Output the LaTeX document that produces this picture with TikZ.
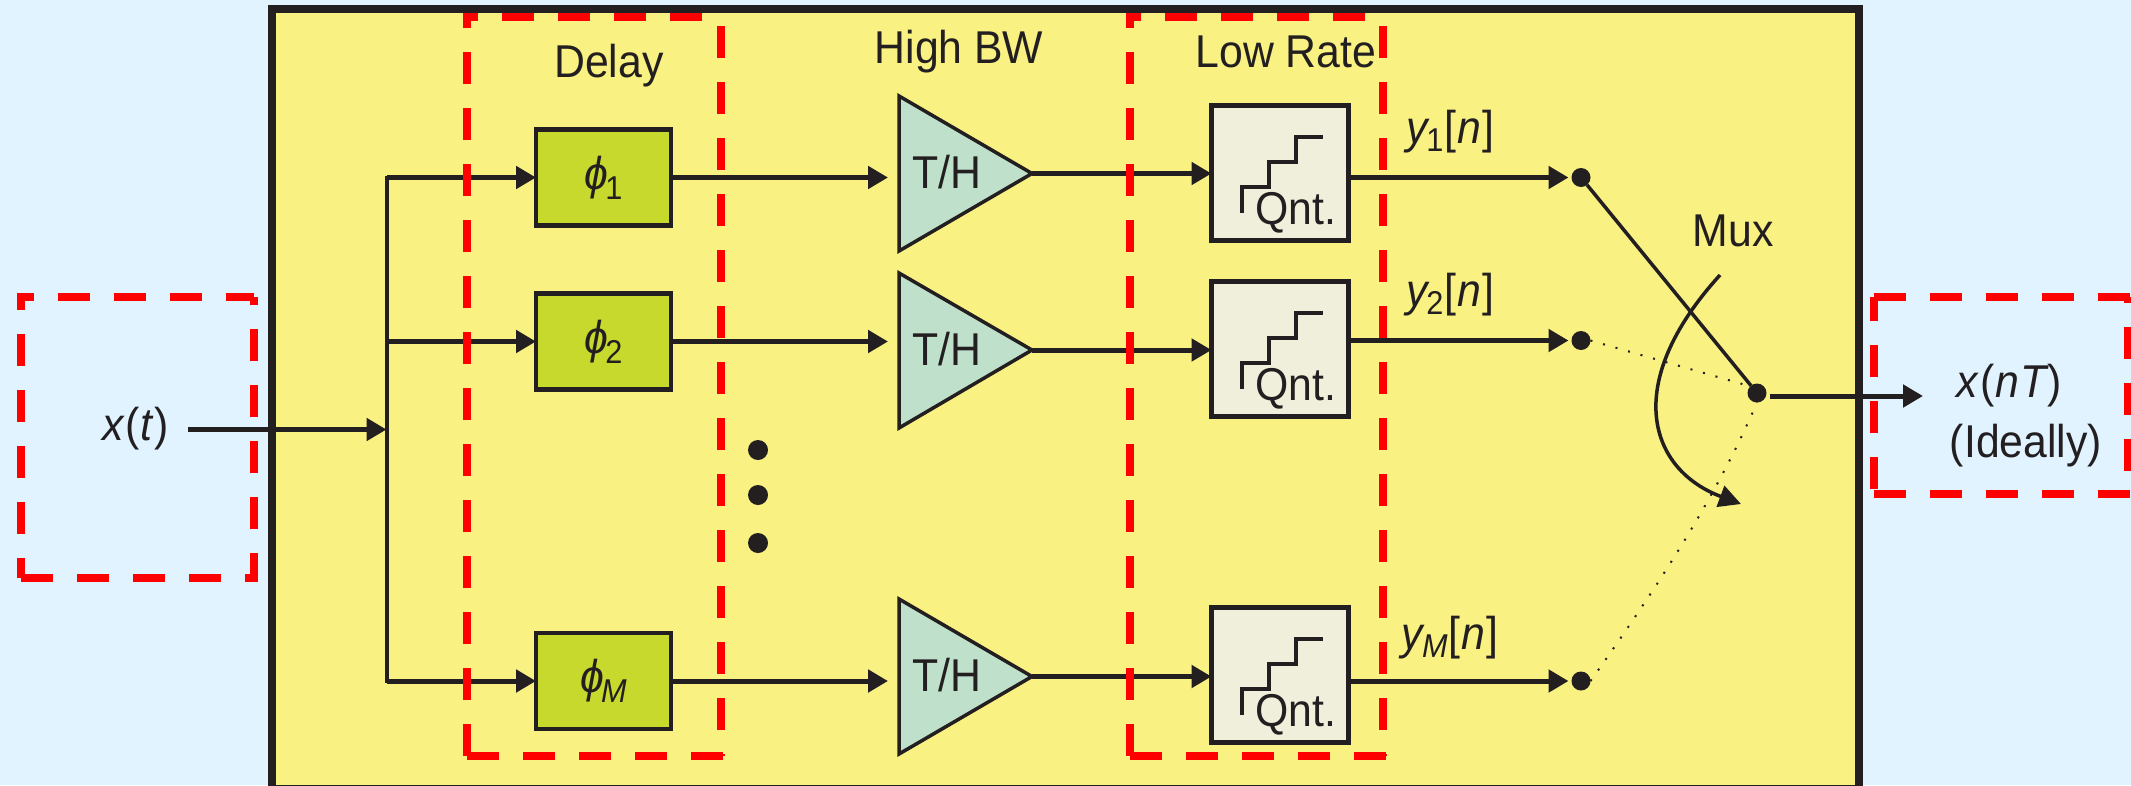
\documentclass[tikz,border=0pt]{standalone}
\usepackage{graphicx}
\usepackage{fontspec}
\setmainfont[FakeStretch=0.93]{Liberation Sans}
\usetikzlibrary{arrows.meta,calc}
\definecolor{bgblue}{HTML}{E0F3FF}
\definecolor{panel}{HTML}{F9F182}
\definecolor{phigreen}{HTML}{C6D92C}
\definecolor{thgreen}{HTML}{BFE0CA}
\definecolor{qntbox}{HTML}{EFEFDC}
\definecolor{ink}{HTML}{231F20}
\newcommand{\lbl}{\fontsize{46}{52}\selectfont}
\newcommand{\subs}[1]{\raisebox{-8pt}{\fontsize{33}{36}\selectfont #1}}
\newcommand{\phisym}[1]{\raisebox{2pt}{\itshape ϕ}\kern-3pt\subs{#1}}
\tikzset{
  x=1pt,y=-1pt,
  every node/.style={inner sep=0pt,outer sep=0pt,text=ink,font=\lbl},
  wire/.style={draw=ink,line width=5pt},
  arrowed/.style={wire,-{Triangle[length=20pt,width=22pt]}},
  phibox/.style={draw=ink,line width=4.5pt,fill=phigreen,minimum width=135pt,minimum height=96pt},
  qbox/.style={draw=ink,line width=4.5pt,fill=qntbox,minimum width=137pt,minimum height=135pt},
  thtri/.style={draw=ink,line width=3.5pt,fill=thgreen,line join=miter},
  stairs/.style={draw=ink,line width=4pt},
  junction/.style={circle,fill=ink,minimum size=19pt},
  dotty/.style={draw=ink,line width=2pt,dash pattern=on 2pt off 11pt},
  reddash/.style={draw=red,line width=7.5pt,dash pattern=on 32pt off 24pt},
  ellip/.style={circle,fill=ink,minimum size=20pt},
}
\begin{document}
\begin{tikzpicture}
\useasboundingbox (0,0) rectangle (2131,785);
\clip (0,0) rectangle (2131,785);
\fill[bgblue] (0,0) rectangle (2131,785);
\draw[draw=ink,line width=7.5pt,fill=panel] (272,9) rectangle (1859,789);

% Delay boxes
\node[phibox] (phi1) at (603.5,177.5) {\phisym{1}};
\node[phibox] (phi2) at (603.5,341.5) {\phisym{2}};
\node[phibox] (phiM) at (603.5,681) {\phisym{\itshape M}};

% T/H amplifiers
\foreach \n/\t/\b/\m in {1/96/251/173.5,2/273/428/350,M/599/754/676.5}{
  \draw[thtri] (899,\t) -- (1032,\m) -- (899,\b) -- cycle;
  \coordinate (thin\n) at (888,\m);
  \coordinate (thtip\n) at (1032,\m);
  \node (th\n) at (947,\m-1) {T/H};
}

% Quantisers
\foreach \n/\c in {1/173,2/349,M/675}{
  \node[qbox] (qnt\n) at (1280,\c) {};
  \draw[stairs] ($(qnt\n.center)+(-38,40)$) |- ++(27,-26) |- ++(27,-25) |- ++(27,-25);
  \node at ($(qnt\n.center)+(16,40)$) {Qnt.};
}

% Input
\node (xin) at (135.5,429) {\itshape x\kern2pt\upshape(\kern1pt\itshape t\kern2pt\upshape)};
\coordinate (xstart) at (188,429.5);
\coordinate (trunkin) at (386.5,429.5);
\coordinate (trunktop) at (386.5,177.5);
\coordinate (trunkbot) at (386.5,681);
\draw[arrowed] (xstart) -- (trunkin);
\draw[wire,line width=4pt,line cap=rect] (trunkbot) -- (trunktop);
\draw[arrowed] (trunktop) -- (phi1.west);
\draw[arrowed] (trunkin |- phi2.west) -- (phi2.west);
\draw[arrowed] (trunkbot) -- (phiM.west);

% Delay to T/H to quantiser
\foreach \n/\y in {1/177.5,2/340.5,M/681}{
  \draw[arrowed] (phi\n.east) -- (thin\n |- phi\n.east);
  \draw[arrowed] (thtip\n) -- (qnt\n.west |- thtip\n);
  \node[junction] (out\n) at (1581,\y) {};
  \draw[arrowed,shorten >=3pt] (qnt\n.east |- out\n) -- (out\n.west);
}

% Mux
\node[junction] (muxdot) at (1757,393) {};
\draw[draw=ink,line width=3.5pt] (out1) -- (muxdot);
\draw[dotty] (out2.east) -- (muxdot.north west);
\draw[dotty] (outM.east) .. controls (1655,590) and (1715,500) .. (muxdot.south);
\coordinate (swingstart) at (1720,275);
\coordinate (swingend) at (1741,504);
\draw[wire,line width=3.5pt,-{Triangle[length=22pt,width=22pt]}] (swingstart) .. controls (1620,385) and (1650,470) .. (swingend);
\coordinate (outstart) at (1770,396);
\coordinate (outend) at (1923,396);
\draw[arrowed] (outstart) -- (outend);

% Ellipsis dots
\node[ellip] (e1) at (758,450) {};
\node[ellip] (e2) at (758,495) {};
\node[ellip] (e3) at (758,543) {};

% Labels
\node (delay) at (609,66) {Delay};
\node (highbw) at (959,52) {High BW};
\node (lowrate) at (1286,52) {Low Rate};
\node (mux) at (1733,231) {Mux};
\node (y1) at (1450,132) {\itshape y\upshape\kern-1pt\subs{1}\kern1pt[\kern1pt\itshape n\kern1pt\upshape]};
\node (y2) at (1450,295) {\itshape y\upshape\kern-1pt\subs{2}\kern1pt[\kern1pt\itshape n\kern1pt\upshape]};
\node (yM) at (1450,638) {\itshape y\kern-1pt\subs{\itshape M}\upshape\kern1pt[\kern1pt\itshape n\kern1pt\upshape]};
\node (xnt) at (2009,386) {\itshape x\kern3pt\upshape(\kern1pt\itshape n\kern1pt T\kern1pt\upshape)};
\node (ideal) at (2026,446) {(Ideally)};

% Red dashed selection frames
\foreach \x/\ya/\yb/\ph in {21/297/578/19,254/297/578/24}{
  \draw[reddash,dash phase=\ph pt] (\x,\ya) -- (\x,\yb);}
\draw[reddash,dash phase=15pt] (17,297) -- (254,297);
\draw[reddash] (21,578) -- (258,578);

\draw[reddash,dash phase=17pt] (467,13) -- (467,756);
\draw[reddash] (721,26) -- (721,756);
\draw[reddash,dash phase=17pt] (463,17) -- (706,17);
\draw[reddash] (467,756) -- (725,756);

\draw[reddash,dash phase=17pt] (1130,13) -- (1130,756);
\draw[reddash] (1383,26) -- (1383,756);
\draw[reddash,dash phase=17pt] (1126,17) -- (1368,17);
\draw[reddash] (1130,756) -- (1387,756);

\draw[reddash] (1874,297) -- (2131,297);
\draw[reddash] (1874,494) -- (2131,494);
\draw[reddash,dash phase=8pt] (1874,297) -- (1874,494);
\draw[reddash,dash phase=26pt] (2128,297) -- (2128,494);
\end{tikzpicture}
\end{document}
